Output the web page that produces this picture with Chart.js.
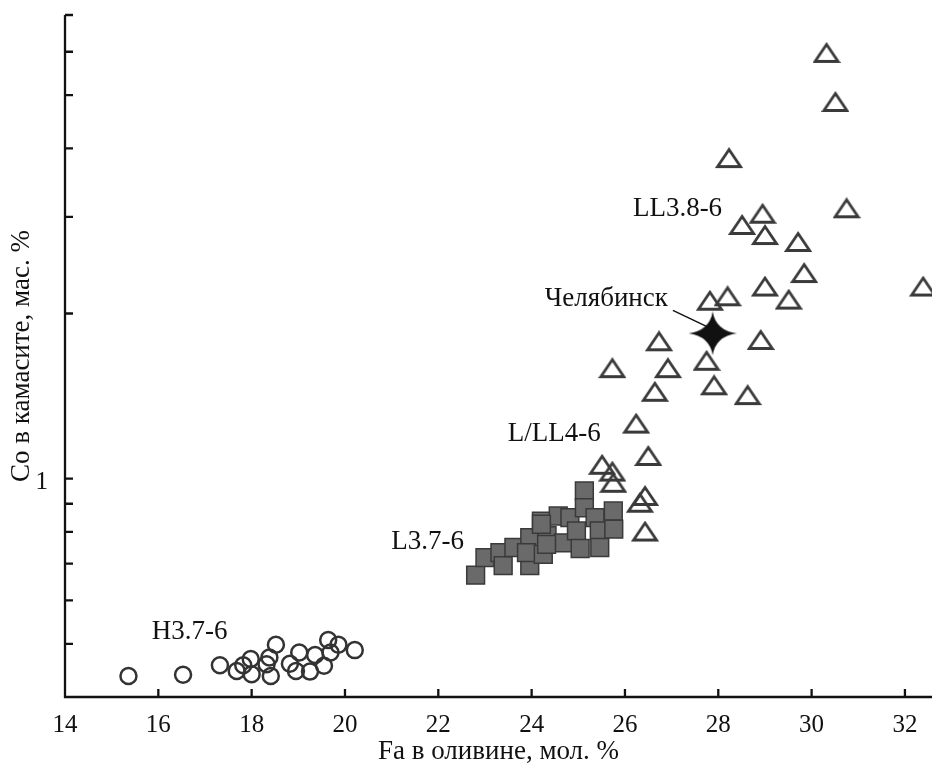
<!DOCTYPE html>
<html>
<head>
<meta charset="utf-8">
<script src="https://cdn.jsdelivr.net/npm/chart.js@4.4.0/dist/chart.umd.min.js"></script>
<style>
  html, body { margin: 0; background: #fff; }
  #wrap { width: 932px; height: 763px; }
</style>
</head>
<body>
<div id="wrap"><canvas id="c" width="932" height="763"></canvas></div>
<script>
// Fa in olivine (x) vs Co in kamacite (y, log)
const xTicks = [14, 16, 18, 20, 22, 24, 26, 28, 30, 32];
const yTicks = [0.5, 0.6, 0.7, 0.8, 0.9, 1, 2, 3, 4, 5, 6, 7];
const yLabelled = [1];

// H3.7-6 (open circles)
const hX = [15.36, 16.53, 17.32, 17.68, 17.82, 17.98, 18.0, 18.32, 18.38, 18.41, 18.52, 18.82, 18.95, 19.02, 19.25, 19.36, 19.55, 19.64, 19.69, 19.86, 20.21];
const hY = [0.437, 0.439, 0.457, 0.446, 0.457, 0.469, 0.440, 0.459, 0.472, 0.437, 0.498, 0.460, 0.446, 0.482, 0.445, 0.477, 0.456, 0.508, 0.482, 0.498, 0.487];

// L3.7-6 (grey squares)
const lX = [22.80, 23.0, 23.32, 23.39, 23.62, 23.96, 23.96, 23.89, 24.21, 24.25, 24.33, 24.57, 24.68, 24.82, 24.96, 25.04, 25.13, 25.13, 25.36, 25.45, 25.46, 25.75, 25.76, 24.21, 24.32];
const lY = [0.667, 0.718, 0.733, 0.694, 0.749, 0.781, 0.694, 0.733, 0.837, 0.728, 0.787, 0.855, 0.764, 0.849, 0.803, 0.746, 0.950, 0.885, 0.849, 0.803, 0.749, 0.873, 0.809, 0.826, 0.759];

// L/LL4-6 (open triangles)
const lllX = [26.24, 26.50, 25.51, 25.73, 25.75, 26.43, 26.32, 26.43];
const lllY = [1.26, 1.10, 1.06, 1.03, 0.983, 0.930, 0.904, 0.801];

// LL3.8-6 (open triangles)
const llX = [30.32, 30.51, 28.23, 30.75, 28.95, 28.51, 29.0, 29.71, 29.84, 32.39, 29.0, 29.51, 28.2, 27.82, 28.91, 26.73, 25.73, 26.92, 27.75, 27.91, 26.64, 28.63];
const llY = [5.97, 4.86, 3.84, 3.11, 3.04, 2.90, 2.78, 2.70, 2.37, 2.24, 2.24, 2.12, 2.15, 2.11, 1.79, 1.78, 1.59, 1.59, 1.64, 1.48, 1.44, 1.42];

// Chelyabinsk
const chX = [27.88];
const chY = [1.84];

// group labels: text, x, y (data units)
const labelText = ['H3.7-6', 'L3.7-6', 'L/LL4-6', 'LL3.8-6', 'Челябинск'];
const labelX = [15.86, 20.99, 23.49, 26.17, 26.92];
const labelY = [0.533, 0.778, 1.223, 3.14, 2.15];

const FONT = "'Liberation Serif', 'Times New Roman', serif";
const INK = '#111';

function pts(xs, ys) {
  return xs.map((v, i) => ({ x: v, y: ys[i] }));
}

// open triangle marker, a bit flatter than equilateral
function makeTriangle() {
  const c = document.createElement('canvas');
  c.width = 28; c.height = 22;
  const g = c.getContext('2d');
  g.strokeStyle = '#3a3a3a';
  g.lineWidth = 2.8;
  g.lineJoin = 'miter';
  g.beginPath();
  g.moveTo(14, 2.5);
  g.lineTo(2.5, 19.5);
  g.lineTo(25.5, 19.5);
  g.closePath();
  g.stroke();
  return c;
}

// four-pointed star
function makeStar() {
  const c = document.createElement('canvas');
  c.width = 48; c.height = 44;
  const g = c.getContext('2d');
  const cx = 24, cy = 22;
  g.fillStyle = '#111';
  g.beginPath();
  g.moveTo(cx, 0);
  g.quadraticCurveTo(cx + 3, cy - 3, 48, cy);
  g.quadraticCurveTo(cx + 3, cy + 3, cx, 44);
  g.quadraticCurveTo(cx - 3, cy + 3, 0, cy);
  g.quadraticCurveTo(cx - 3, cy - 3, cx, 0);
  g.closePath();
  g.fill();
  return c;
}

const tri = makeTriangle();
const star = makeStar();

const axesPlugin = {
  id: 'axesPlugin',
  beforeDatasetsDraw(chart) {
    const { ctx, chartArea: a, scales: { x, y } } = chart;
    ctx.save();
    ctx.strokeStyle = INK;
    ctx.lineWidth = 2.3;
    ctx.beginPath();
    ctx.moveTo(a.left, a.top);
    ctx.lineTo(a.left, a.bottom);
    ctx.lineTo(a.right, a.bottom);
    xTicks.forEach(v => {
      const px = x.getPixelForValue(v);
      ctx.moveTo(px, a.bottom);
      ctx.lineTo(px, a.bottom - 8);
    });
    yTicks.forEach(v => {
      const py = y.getPixelForValue(v);
      ctx.moveTo(a.left, py);
      ctx.lineTo(a.left + 8, py);
    });
    ctx.stroke();
    ctx.restore();
  },
  afterDatasetsDraw(chart) {
    const { ctx, scales: { x, y } } = chart;
    ctx.save();
    ctx.fillStyle = INK;
    ctx.font = '27px ' + FONT;
    ctx.textBaseline = 'middle';
    labelText.forEach((t, i) => {
      ctx.textAlign = t === 'Челябинск' ? 'right' : 'left';
      ctx.fillText(t, x.getPixelForValue(labelX[i]), y.getPixelForValue(labelY[i]) + 3);
    });
    // leader line from the label to the star
    const x0 = x.getPixelForValue(labelX[4]) + 5;
    const y0 = y.getPixelForValue(labelY[4]) + 14;
    const x1 = x.getPixelForValue(chX[0]) - 2;
    const y1 = y.getPixelForValue(chY[0]) - 5;
    ctx.strokeStyle = INK;
    ctx.lineWidth = 1.4;
    ctx.beginPath();
    ctx.moveTo(x0, y0);
    ctx.lineTo(x1, y1);
    ctx.stroke();
    ctx.restore();
  }
};

new Chart(document.getElementById('c'), {
  type: 'scatter',
  data: {
    datasets: [
      {
        label: 'H3.7-6',
        data: pts(hX, hY),
        pointStyle: 'circle',
        pointRadius: 8,
        backgroundColor: 'rgba(255,255,255,0)',
        borderColor: '#333',
        borderWidth: 2.5
      },
      {
        label: 'L3.7-6',
        data: pts(lX, lY),
        pointStyle: 'rect',
        pointRadius: 12.6,
        backgroundColor: '#6a6a6a',
        borderColor: '#3a3a3a',
        borderWidth: 1.5
      },
      {
        label: 'L/LL4-6',
        data: pts(lllX, lllY),
        pointStyle: tri,
        pointRadius: 10
      },
      {
        label: 'LL3.8-6',
        data: pts(llX, llY),
        pointStyle: tri,
        pointRadius: 10
      },
      {
        label: 'Челябинск',
        data: pts(chX, chY),
        pointStyle: star,
        pointRadius: 20
      }
    ]
  },
  options: {
    responsive: false,
    animation: false,
    devicePixelRatio: 1,
    layout: { autoPadding: false, padding: { top: 15, right: 0, bottom: 0, left: 0 } },
    plugins: {
      legend: { display: false },
      tooltip: { enabled: false }
    },
    elements: { point: { hoverRadius: 0 } },
    scales: {
      x: {
        type: 'linear',
        min: 14,
        max: 32.58,
        afterBuildTicks: s => { s.ticks = xTicks.map(v => ({ value: v })); },
        afterFit: s => { s.height = 66; s.paddingLeft = 0; s.paddingRight = 0; },
        grid: { display: false, drawTicks: false },
        border: { display: false },
        ticks: {
          autoSkip: false,
          maxRotation: 0,
          padding: 13,
          color: INK,
          font: { family: FONT, size: 25 },
          callback: v => String(v)
        },
        title: {
          display: true,
          text: 'Fa в оливине, мол. %',
          color: INK,
          padding: 0,
          font: { family: FONT, size: 27, lineHeight: 0.8 }
        }
      },
      y: {
        type: 'logarithmic',
        min: 0.4,
        max: 7,
        afterBuildTicks: s => { s.ticks = yTicks.map(v => ({ value: v })); },
        afterFit: s => { s.width = 65; s.paddingTop = 0; s.paddingBottom = 0; },
        grid: { display: false, drawTicks: false },
        border: { display: false },
        ticks: {
          autoSkip: false,
          padding: 17,
          labelOffset: 4,
          color: INK,
          font: { family: FONT, size: 25 },
          callback: v => (yLabelled.includes(v) ? String(v) : '')
        },
        title: {
          display: true,
          text: 'Co в камасите, мас. %',
          color: INK,
          padding: { top: 6, bottom: 0 },
          font: { family: FONT, size: 27, lineHeight: 1.2 }
        }
      }
    }
  },
  plugins: [axesPlugin]
});
</script>
</body>
</html>
